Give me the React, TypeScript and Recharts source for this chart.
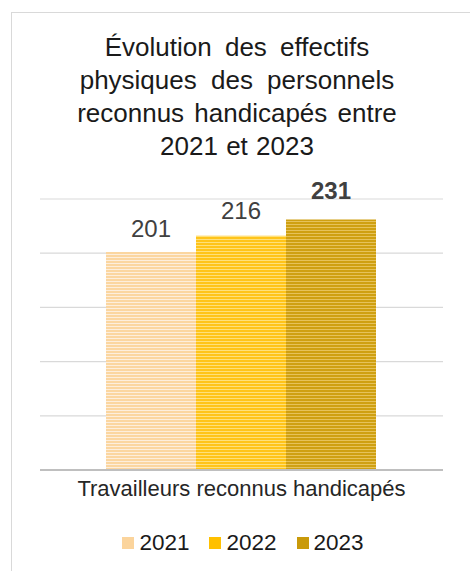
import { BarChart, Bar, XAxis, YAxis, CartesianGrid, LabelList } from 'recharts'

const categories = ['Travailleurs reconnus handicapés']
const years = ['2021', '2022', '2023']
const values2021 = [201]
const values2022 = [216]
const values2023 = [231]
const yTicks = [0, 50, 100, 150, 200, 250]
const titleLines = [
  'Évolution des effectifs',
  'physiques des personnels',
  'reconnus handicapés entre',
  '2021 et 2023',
]
const titleSpacing = [6, 7, 3, 1]

const colors: Record<string, { main: string; light: string; legend: string }> = {
  '2021': { main: '#fbd6a0', light: '#fdeedc', legend: '#fbd49c' },
  '2022': { main: '#ffc41a', light: '#ffe07a', legend: '#ffc000' },
  '2023': { main: '#cfa012', light: '#e6c25a', legend: '#c99a0a' },
}

const data = categories.map((name, i) => ({
  name,
  '2021': values2021[i],
  '2022': values2022[i],
  '2023': values2023[i],
}))

const font = '"Liberation Sans", Arial, sans-serif'

export default function App() {
  return (
    <div style={{ position: 'absolute', left: 0, top: 0, width: 470, height: 571, background: '#fff', fontFamily: font, overflow: 'hidden' }}>
      {/* frame */}
      <div style={{ position: 'absolute', left: 11, top: 12, width: 480, height: 600, borderLeft: '1.5px solid #d9d9d9', borderTop: '1.5px solid #d9d9d9' }} />

      <div style={{ position: 'absolute', left: 0, top: 31, width: 474, textAlign: 'center', fontSize: 26, lineHeight: '33px', color: '#1a1a1a' }}>
        {titleLines.map((l, i) => <div key={l} style={{ wordSpacing: titleSpacing[i] }}>{l}</div>)}
      </div>

      <div style={{ position: 'absolute', left: 0, top: 0 }}>
        <BarChart width={470} height={571} data={data}
          margin={{ top: 199, right: 27, left: 40, bottom: 71 }}
          barGap={0} barCategoryGap={66}>
          <defs>
            {years.map((y) => (
              <pattern key={y} id={`stripe${y}`} width={4} height={3} patternUnits="userSpaceOnUse">
                <rect width={4} height={3} fill={colors[y].main} />
                <rect y={2} width={4} height={1} fill={colors[y].light} />
              </pattern>
            ))}
          </defs>
          <CartesianGrid vertical={false} stroke="#d9d9d9" strokeWidth={1.2} />
          <YAxis hide domain={[0, 250]} ticks={yTicks} />
          <XAxis dataKey="name" height={30} tickLine={false}
            axisLine={{ stroke: '#bfbfbf', strokeWidth: 2 }}
            tick={{ fontSize: 22, fill: '#262626', fontFamily: font }} tickMargin={4} />
          {years.map((y) => (
            <Bar key={y} dataKey={y} fill={`url(#stripe${y})`} isAnimationActive={false}>
              <LabelList dataKey={y} position="top" offset={y === '2023' ? 21 : y === '2022' ? 17 : 15}
                style={{ fontSize: 24, fill: '#404040', fontFamily: font, fontWeight: y === '2023' ? 'bold' : 'normal' }} />
            </Bar>
          ))}
        </BarChart>
      </div>

      <div style={{ position: 'absolute', left: 0, top: 529, width: 486, display: 'flex', justifyContent: 'center', gap: 20, fontSize: 22.5, color: '#1a1a1a', lineHeight: '28px' }}>
        {years.map((y) => (
          <div key={y} style={{ display: 'flex', alignItems: 'center' }}>
            <span style={{ display: 'inline-block', width: 12, height: 12, background: colors[y].legend, marginRight: 5 }} />
            {y}
          </div>
        ))}
      </div>
    </div>
  )
}
